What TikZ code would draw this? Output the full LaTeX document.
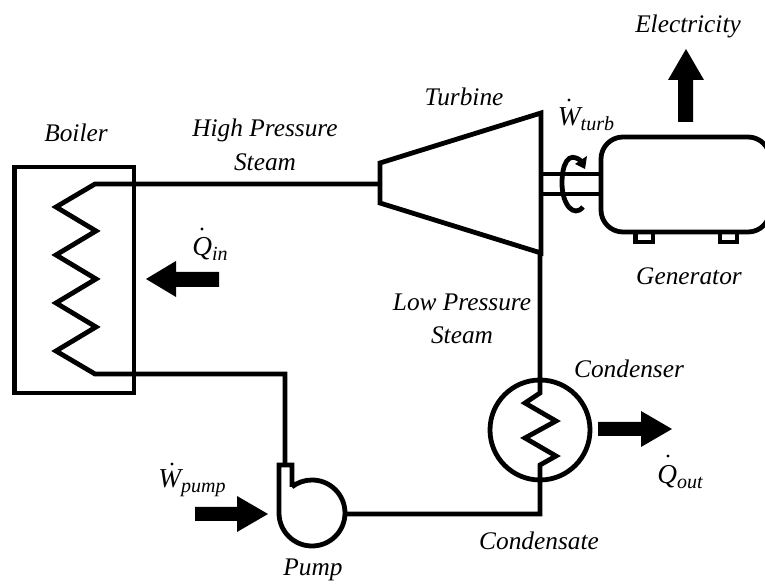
\documentclass[tikz,border=0pt]{standalone}
\usepackage{fontspec}
\setmainfont{Liberation Serif}
\newcommand{\dotlbl}[2]{\fontsize{20.5}{25}\selectfont #1\raisebox{-3.5pt}{\fontsize{15}{15}\selectfont #2}}
\begin{document}
\begin{tikzpicture}[x=.75pt,y=.75pt,
  pipe/.style={line width=3.6pt,line join=miter,black},
  bigarrow/.style={fill=black,draw=none},
  lbl/.style={font=\fontsize{19}{25}\selectfont\itshape,align=center,inner sep=0pt,text=black}]
\useasboundingbox (0,0) rectangle (765,-584);
\clip (0,0) rectangle (765,-584);
% boiler
\draw[pipe] (14.5,-167) rectangle (134,-393);
\coordinate (boilerIn) at (95,-184);
\coordinate (boilerOut) at (95,-374);
\coordinate (pumpIn) at (285,-465);
\coordinate (turbIn) at (380,-184);
\coordinate (turbOut) at (540,-253);
\coordinate (condIn) at (540,-393);
\coordinate (condOut) at (540,-465);
\coordinate (pumpOut) at (345,-514);
\draw[pipe] (turbIn) -- (boilerIn) -- (56,-207) -- (96,-231) -- (56,-255) -- (96,-279) -- (56,-303) -- (96,-327) -- (56,-351) -- (boilerOut) -- (285,-374) -- (pumpIn);
% turbine
\draw[pipe] (380,-163) -- (541,-113) -- (541,-253) -- (380,-203) -- cycle;
\draw[pipe] (turbOut) -- (condIn) -- (525,-403) -- (556,-421) -- (525,-438) -- (556,-456) -- (condOut) -- (540,-514) -- (pumpOut);
% condenser
\node[draw,pipe,circle,minimum size=75pt,inner sep=0pt] (condenser) at (540,-430) {};
% pump
\draw[pipe] (292,-487) -- (292,-465) -- (279,-465) -- (279,-513) arc[start angle=180,end angle=487.6,radius=24.75pt];
% shaft
\draw[pipe] (541,-174) -- (601,-174) (541,-194) -- (601,-194);
% generator
\draw[pipe,rounded corners=16.5pt] (601,-137) rectangle (770,-232);
\draw[pipe] (635.5,-232) -- (635.5,-242) -- (653,-242) -- (653,-232);
\draw[pipe] (720,-232) -- (720,-242) -- (737,-242) -- (737,-232);
% rotation
\draw[pipe] (583,-207) .. controls (574,-218) and (562,-205) .. (562,-183) .. controls (562,-165) and (568,-150) .. (581,-161);
\fill[bigarrow] (587,-156) -- (585,-169) -- (575,-164) -- cycle;
% arrows
\fill[bigarrow] (219,-272) -- (176,-272) -- (176,-261) -- (146,-279) -- (176,-297) -- (176,-287) -- (219,-287) -- cycle;
\fill[bigarrow] (195,-507) -- (237,-507) -- (237,-496) -- (268,-514) -- (237,-532) -- (237,-521) -- (195,-521) -- cycle;
\fill[bigarrow] (598,-422) -- (641,-422) -- (641,-411) -- (672,-429) -- (641,-447) -- (641,-436) -- (598,-436) -- cycle;
\fill[bigarrow] (678,-122) -- (678,-80) -- (668,-80) -- (686,-49) -- (704,-80) -- (693,-80) -- (693,-122) -- cycle;
% labels
\node[lbl] (lBoiler) at (76,-133) {Boiler};
\node[lbl] (lHP) at (265,-145) {High Pressure\\Steam};
\node[lbl] (lTurb) at (464,-97) {Turbine};
\node[lbl] (lElec) at (688,-26) {Electricity};
\node[lbl] (lGen) at (689,-276) {Generator};
\node[lbl] (lLP) at (462,-319) {Low Pressure\\Steam};
\node[lbl] (lCond) at (629,-369) {Condenser};
\node[lbl] (lCate) at (539,-541) {Condensate};
\node[lbl] (lPump) at (313,-570) {Pump};
\node[lbl] (lWt) at (586,-119) {\dotlbl{W}{turb}};
\node[lbl] (lQi) at (210,-249) {\dotlbl{Q}{in}};
\node[lbl] (lWp) at (192,-483) {\dotlbl{W}{pump}};
\node[lbl] (lQo) at (680,-477) {\dotlbl{Q}{out}};
% dots over the rate symbols
\fill (569,-100) circle[radius=1.6];
\fill (202,-229) circle[radius=1.6];
\fill (172,-464) circle[radius=1.6];
\fill (668,-456) circle[radius=1.6];
\end{tikzpicture}
\end{document}
